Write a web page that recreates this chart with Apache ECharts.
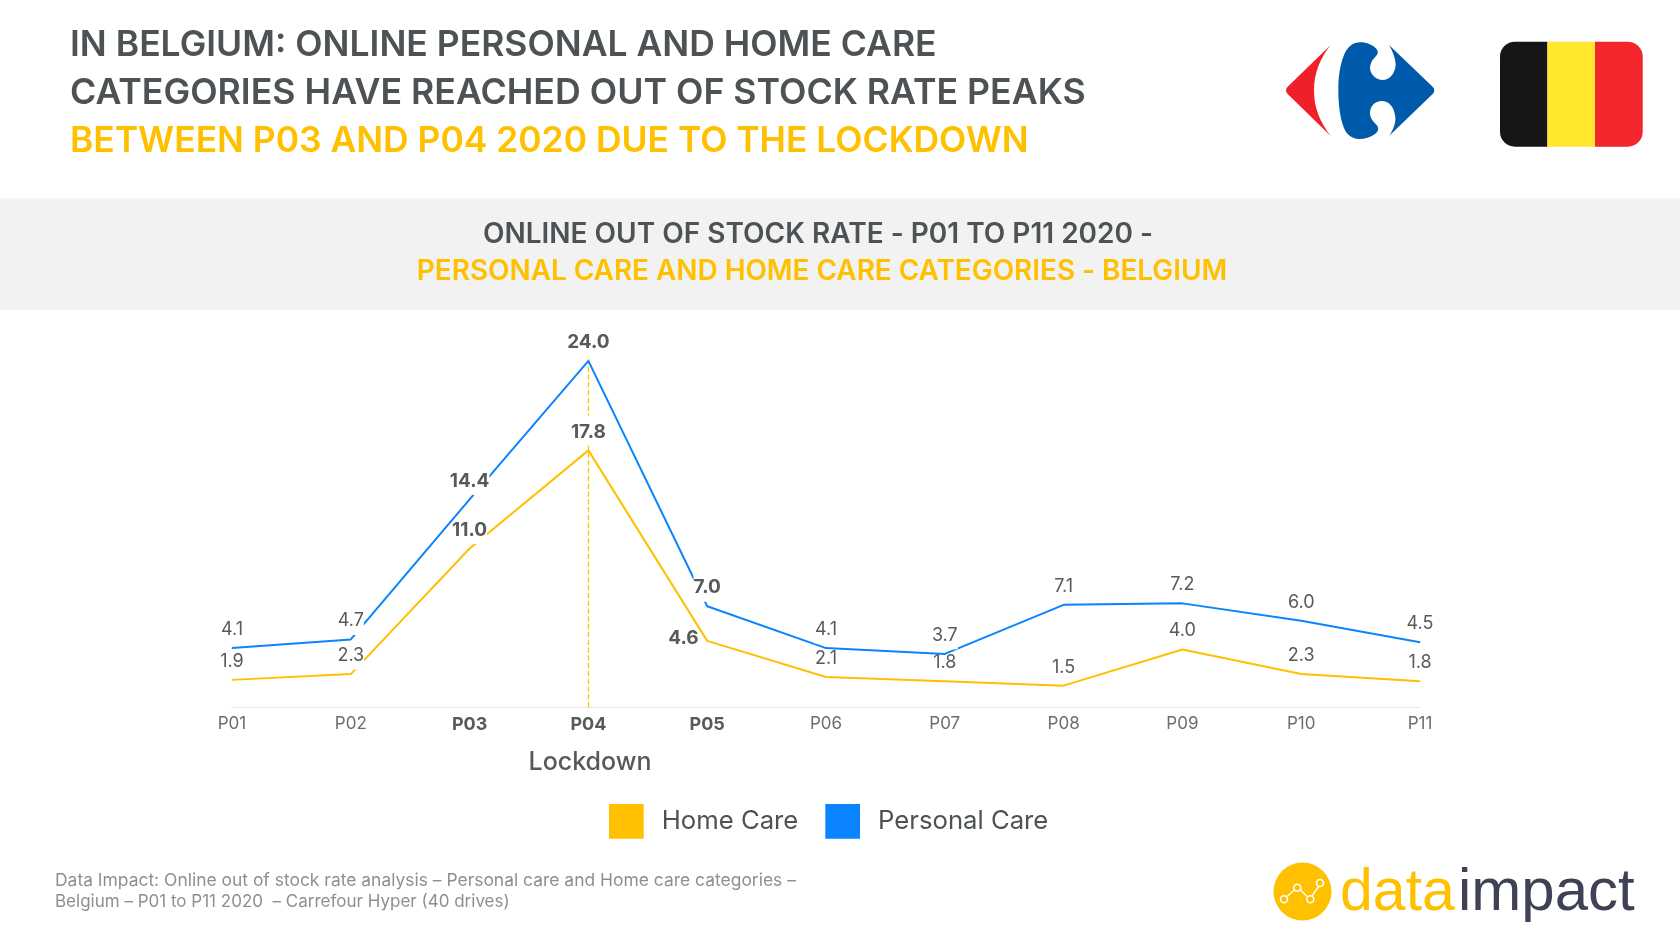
<!DOCTYPE html>
<html>
<head>
<meta charset="utf-8">
<style>html,body{margin:0;padding:0;background:#fff}#c{width:1680px;height:945px}</style>
<script src="https://cdn.jsdelivr.net/npm/echarts@6/dist/echarts.min.js"></script>
</head>
<body>
<div id="c"></div>
<script>
const categories = ['P01','P02','P03','P04','P05','P06','P07','P08','P09','P10','P11'];
const homeCare = [1.9,2.3,11.0,17.8,4.6,2.1,1.8,1.5,4.0,2.3,1.8];
const personalCare = [4.1,4.7,14.4,24.0,7.0,4.1,3.7,7.1,7.2,6.0,4.5];
const boldPeriods = ['P03','P04','P05'];
const lockdownPeriod = 'P04';
const seriesNames = ['Home Care','Personal Care'];

const FONT = 'Inter';
const ORANGE = '#FFC000', BLUE = '#0A84FF', GREY = '#58595B', DARK = '#4D5254';

echarts.graphic.registerShape('carRed', echarts.graphic.extendPath('M272,75 L143,200 Q133,210 143,222 L272,348 C240,305 222,265 222,210 C222,160 240,115 272,75 Z', {}));
echarts.graphic.registerShape('carBlue', echarts.graphic.extendPath('M447,75 L578,200 Q588,210 578,222 L447,348 C460,330 470,305 465,285 C460,255 443,243 425,243 C405,243 390,258 390,280 C390,295 400,305 410,315 C418,325 415,335 405,342 C390,353 370,358 355,357 C330,355 315,340 307,310 C298,280 295,240 295,210 C295,170 300,135 312,105 C322,80 340,67 360,67 C380,67 400,75 410,88 C417,97 412,105 405,112 C395,120 390,135 390,145 C392,165 408,180 428,180 C450,180 465,160 467,135 C467,115 457,92 447,75 Z', {}));
echarts.graphic.registerShape('diGraph', echarts.graphic.extendPath('M1287,896.5 L1294.5,890 M1300.5,890 L1307,896.5 M1312,896 L1318.5,886.5', {}));

function points(vals, special) {
  return vals.map((v, i) => {
    const bold = boldPeriods.includes(categories[i]);
    const label = {fontWeight: bold ? 700 : 400, fontSize: bold ? 19 : 18};
    if (special && special[categories[i]]) Object.assign(label, special[categories[i]]);
    return {value: v, label};
  });
}
const baseLabel = {
  show: true, position: 'top', distance: 4, color: GREY, fontFamily: FONT, fontSize: 18,
  lineHeight: 20, padding: [6, 0, 4, 0], backgroundColor: '#fff',
  formatter: p => p.value.toFixed(1)
};
function text(x, y, t, size, weight, fill, align) {
  return {type: 'text', x, y, silent: true,
    style: {text: t, fontFamily: FONT, fontSize: size, fontWeight: weight, fill, textAlign: align || 'left', textVerticalAlign: 'middle'}};
}
const ring = (x, y) => ({type: 'circle', x, y, shape: {r: 3.5}, style: {fill: 'none', stroke: '#fff', lineWidth: 1.6}, silent: true});
const graphics = [
  {type: 'rect', x: 0, y: 198.5, shape: {width: 1680, height: 111.5}, style: {fill: '#F2F2F2'}, silent: true},
  text(70, 45, 'IN BELGIUM: ONLINE PERSONAL AND HOME CARE', 35.5, 600, DARK),
  text(70, 93, 'CATEGORIES HAVE REACHED OUT OF STOCK RATE PEAKS', 35.7, 600, DARK),
  text(70, 141, 'BETWEEN P03 AND P04 2020 DUE TO THE LOCKDOWN', 35.4, 600, ORANGE),
  text(818, 234.5, 'ONLINE OUT OF STOCK RATE - P01 TO P11 2020 -', 28, 600, DARK, 'center'),
  text(822, 271.5, 'PERSONAL CARE AND HOME CARE CATEGORIES - BELGIUM', 27.9, 600, ORANGE, 'center'),
  text(590, 762, 'Lockdown', 25, 500, GREY, 'center'),
  text(55, 881, 'Data Impact: Online out of stock rate analysis \u2013 Personal care and Home care categories \u2013', 17.45, 400, '#8C9094'),
  text(55, 902, 'Belgium \u2013 P01 to P11 2020  \u2013 Carrefour Hyper (40 drives)', 17, 400, '#8C9094'),
  {type: 'carRed', x: 1240, y: 20, scaleX: 1/3, scaleY: 1/3, silent: true, style: {fill: '#F0202B'}},
  {type: 'carBlue', x: 1240, y: 20, scaleX: 1/3, scaleY: 1/3, silent: true, style: {fill: '#005AAB'}},
  {type: 'rect', x: 1500, y: 41.7, shape: {width: 47.5, height: 105, r: [15,0,0,15]}, style: {fill: '#161616'}, silent: true},
  {type: 'rect', x: 1547.3, y: 41.7, shape: {width: 47.8, height: 105}, style: {fill: '#FFE82E'}, silent: true},
  {type: 'rect', x: 1595, y: 41.7, shape: {width: 47.7, height: 105, r: [0,15,15,0]}, style: {fill: '#F3262D'}, silent: true},
  {type: 'circle', x: 1302.5, y: 891.5, shape: {r: 29}, style: {fill: ORANGE}, silent: true},
  {type: 'diGraph', silent: true, style: {fill: 'none', stroke: '#fff', lineWidth: 1.4}},
  ring(1284, 899.3), ring(1297.3, 887.7), ring(1310.3, 899.3), ring(1320, 883),
  {type: 'text', x: 1340, y: 923, silent: true, style: {text: 'data', fontFamily: 'Liberation Sans', fontSize: 59, fill: ORANGE, textVerticalAlign: 'bottom'}},
  {type: 'text', x: 1458, y: 923, silent: true, style: {text: 'impact', fontFamily: 'Liberation Sans', fontSize: 60, fill: '#3F4254', textVerticalAlign: 'bottom'}}
];

const chart = echarts.init(document.getElementById('c'), null, {renderer: 'canvas', width: 1680, height: 945});
chart.setOption({
  animation: false,
  backgroundColor: '#fff',
  color: [ORANGE, BLUE],
  graphic: {elements: graphics},
  grid: {left: 232, right: 260, top: 332, bottom: 237.7, containLabel: false},
  xAxis: {
    type: 'category', data: categories, boundaryGap: false,
    axisTick: {show: false},
    axisLine: {lineStyle: {color: '#E6E6E6', width: 1}},
    axisLabel: {
      margin: 8, interval: 0, fontFamily: FONT, fontSize: 17, color: '#6B6D70',
      formatter: v => boldPeriods.includes(v) ? '{b|' + v + '}' : v,
      rich: {b: {fontFamily: FONT, fontSize: 18, fontWeight: 700, color: GREY}}
    }
  },
  yAxis: {type: 'value', min: 0, max: 26, show: false, splitLine: {show: false}},
  legend: {
    left: 609, top: 804, padding: 0, itemWidth: 34.7, itemHeight: 34.7, itemGap: 27, icon: 'rect',
    data: seriesNames, selectedMode: false,
    textStyle: {fontFamily: FONT, fontSize: 25.7, color: DARK, padding: [0, 0, 4, 13]}
  },
  series: [
    {
      name: seriesNames[0], type: 'line', z: 2, symbol: 'circle', symbolSize: 1, showSymbol: true,
      lineStyle: {color: ORANGE, width: 2}, itemStyle: {color: ORANGE}, label: baseLabel,
      data: points(homeCare, {P05: {position: 'left', distance: 8, offset: [0, -3], backgroundColor: 'transparent', padding: 0}}),
      markLine: {
        z: 1, silent: true, symbol: 'none', label: {show: false},
        lineStyle: {color: ORANGE, type: 'dashed', width: 1.3},
        data: [[{coord: [lockdownPeriod, 0]}, {coord: [lockdownPeriod, 26]}]]
      }
    },
    {
      name: seriesNames[1], type: 'line', z: 3, symbol: 'circle', symbolSize: 1, showSymbol: true,
      lineStyle: {color: BLUE, width: 2}, itemStyle: {color: BLUE}, label: baseLabel,
      data: points(personalCare)
    }
  ]
});
</script>
</body>
</html>
